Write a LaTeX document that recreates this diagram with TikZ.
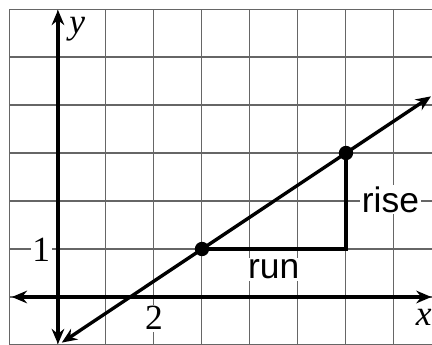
\documentclass[tikz,border=0pt]{standalone}
\usepackage{fontspec}
\setmainfont{Liberation Serif}
\newfontfamily\helv{Liberation Sans}
\usetikzlibrary{arrows.meta}
\tikzset{
  gridline/.style={draw=black!60, line width=0.6pt},
  axisline/.style={line width=2.2pt, {Stealth[length=9pt,width=7.5pt,inset=3pt]}-{Stealth[length=9pt,width=7.5pt,inset=3pt]}},
  graphline/.style={line width=2pt, {Stealth[length=9pt,width=7.5pt,inset=3pt]}-{Stealth[length=9pt,width=7.5pt,inset=3pt]}},
  legline/.style={line width=1.8pt},
  dot/.style={circle, fill=black, inner sep=0pt, minimum size=8.5pt},
  seriflabel/.style={font=\fontsize{21}{23}\selectfont, fill=white, inner sep=1pt},
  sanslabel/.style={font=\helv\fontsize{21}{24}\selectfont, fill=white, inner sep=1pt},
}
\begin{document}
\begin{tikzpicture}[x=1cm,y=1cm]
\useasboundingbox (-1.208,-1.0) rectangle (7.792,6.1875);
\fill[white] (-1.208,-1.0) rectangle (7.792,6.1875);
\draw[gridline] (-1,-1) grid (7.79,6);
\coordinate (xl) at (-0.96,0);
\coordinate (xr) at (7.78,0);
\coordinate (yb) at (0,-0.98);
\coordinate (yt) at (0,5.98);
\coordinate (lb) at (0.08,-0.95);
\coordinate (lt) at (7.77,4.18);
\coordinate (pc) at (3,1);
\coordinate (qc) at (6,3);
\coordinate (c) at (6,1);
\node[seriflabel] (one) at (-0.35,0.98) {1};
\node[seriflabel] (two) at (2.0,-0.44) {2};
\node[seriflabel] (xlab) at (7.62,-0.42) {\itshape x};
\node[seriflabel, fill=none] (ylab) at (0.4,5.58) {\itshape y};
\node[sanslabel, anchor=base west] (rise) at (6.29,1.77) {rise};
\node[sanslabel, anchor=base west] (run) at (3.92,0.375) {run};
\draw[axisline] (xl) -- (xr);
\draw[axisline] (yb) -- (yt);
\draw[legline] (pc) -- (c) -- (qc);
\draw[graphline] (lb) -- (lt);
\node[dot] (p) at (pc) {};
\node[dot] (q) at (qc) {};
\end{tikzpicture}
\end{document}
